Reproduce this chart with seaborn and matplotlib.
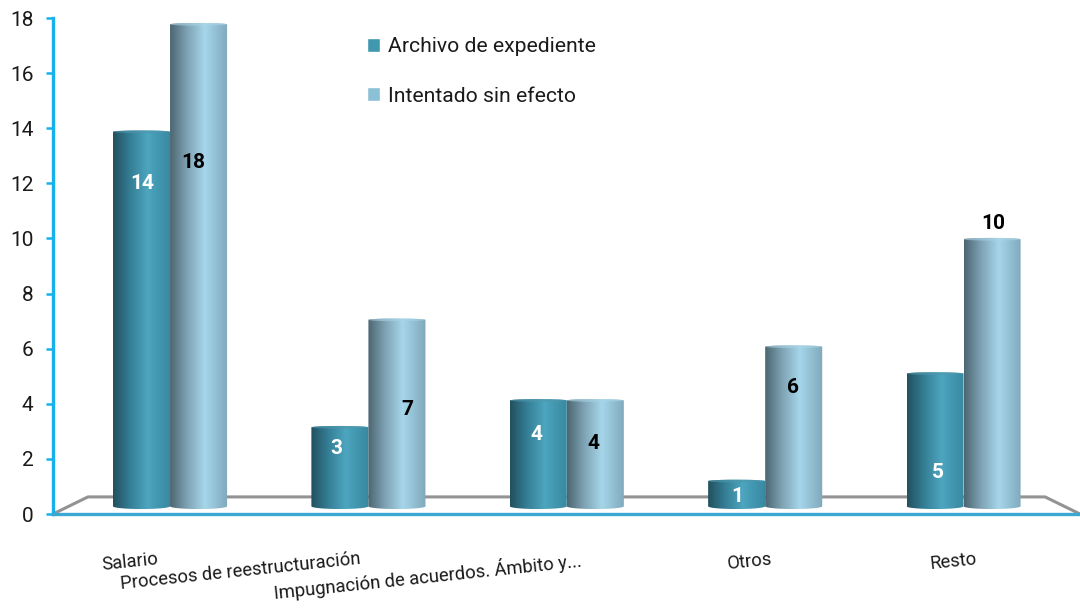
import numpy as np
import pandas as pd
import seaborn as sns
import matplotlib.pyplot as plt
from matplotlib.colors import LinearSegmentedColormap
from matplotlib.patches import Ellipse, PathPatch, Rectangle
from matplotlib.path import Path
from matplotlib.transforms import ScaledTranslation, blended_transform_factory

categorias = ['Salario', 'Procesos de reestructuración', 'Impugnación de acuerdos. Ámbito y...', 'Otros', 'Resto']
archivo = [14, 3, 4, 1, 5]
intentado = [18, 7, 4, 6, 10]
series = ['Archivo de expediente', 'Intentado sin efecto']
yticks = list(range(0, 19, 2))

# the fake 3d floor: bars start a little above 0 and are slightly squashed
BASE = 0.28
OFFSET = 0.22
SQUASH = 0.975

# where the value labels sit (data y, x shift in px)
label_y_archivo = [12.0, 2.38, 2.88, 0.65, 1.5]
label_y_intentado = [12.77, 3.78, 2.55, 4.6, 10.56]
label_dx_archivo = [1, -4, -2, 1, 3]
label_dx_intentado = [-5, 10, -2, -1, 1]

# x shift in px of the right end of each category label
tick_dx = [-13, -9, 14, 6, 12]

dark_cmap = LinearSegmentedColormap.from_list('dark', [(0, '#22505f'), (0.3, '#357f96'), (0.6, '#4da5bf'), (1, '#37879f')])
light_cmap = LinearSegmentedColormap.from_list('light', [(0, '#4c6671'), (0.3, '#7fa3b5'), (0.6, '#a6d6ea'), (1, '#7fa8ba')])

df = pd.DataFrame({
    'categoria': categorias * 2,
    'serie': [series[0]] * 5 + [series[1]] * 5,
    'valor': archivo + intentado,
})
df['alto'] = OFFSET + df['valor'] * SQUASH

sns.set_style('white')
plt.rcParams['font.family'] = ['Roboto', 'DejaVu Sans']

fig = plt.figure(figsize=(10.8, 6.08), dpi=100)
ax = fig.add_axes([53 / 1080, (608 - 514) / 608, 1027 / 1080, 496 / 608])

sns.barplot(data=df, x='categoria', y='alto', hue='serie', palette=['#3f98ae', '#8cc0d6'],
            width=0.575, gap=0, dodge=True, errorbar=None, ax=ax, zorder=2)

ax.set_xlabel('')
ax.set_ylabel('')

# floor outline behind the bars
floor_trans = blended_transform_factory(ax.transAxes, ax.transData)
ax.plot([0, 0.034, 0.966, 1], [0, 0.62, 0.62, 0], color='#939393', lw=2.2, transform=floor_trans, zorder=1, clip_on=False)

grad = np.linspace(0, 1, 256).reshape(1, -1)
bars = [p for c in ax.containers for p in c]
for i, bar in enumerate(bars):
    x0, w, top = bar.get_x(), bar.get_width(), bar.get_height()
    bar.set_visible(False)
    cap = 0.1
    xc = x0 + w / 2
    zo = 3 + i
    # cylinder outline: flat sides, round bottom and a slight round top
    k = np.linspace(0, np.pi, 40)
    bottom_edge = list(zip(xc - w / 2 * np.cos(k), BASE - cap * np.sin(k)))
    top_edge = list(zip(xc + w / 2 * np.cos(k), top + cap * np.sin(k) * 0.5))
    verts = bottom_edge + top_edge + [bottom_edge[0]]
    codes = [Path.MOVETO] + [Path.LINETO] * (len(verts) - 2) + [Path.CLOSEPOLY]
    clip = PathPatch(Path(verts, codes), transform=ax.transData, fc='none', ec='none')
    ax.add_patch(clip)
    cmap = dark_cmap if i < 5 else light_cmap
    im = ax.imshow(grad, cmap=cmap, extent=[x0, x0 + w, BASE - cap, top + cap], aspect='auto', zorder=zo, interpolation='bilinear')
    im.set_clip_path(clip)
    ax.add_patch(Ellipse((xc, top), w, cap, fc='#4f97ad' if i < 5 else '#a9d3e4', ec='none', zorder=zo + 0.1, alpha=0.6))

ax.set_xlim(-0.59, 4.587)
ax.set_ylim(0, 18)

# value labels
for i in range(5):
    bar = bars[i]
    ax.annotate(str(archivo[i]), (bar.get_x() + bar.get_width() / 2, label_y_archivo[i]),
                xytext=(label_dx_archivo[i] * 0.72, 0), textcoords='offset points',
                ha='center', va='center', color='white', fontsize=15, fontweight='bold', zorder=30)
    bar = bars[i + 5]
    ax.annotate(str(intentado[i]), (bar.get_x() + bar.get_width() / 2, label_y_intentado[i]),
                xytext=(label_dx_intentado[i] * 0.72, 0), textcoords='offset points',
                ha='center', va='center', color='black', fontsize=15, fontweight='bold', zorder=30)

sns.despine(ax=ax)
ax.spines['left'].set_color('#16b1ea')
ax.spines['left'].set_linewidth(2.4)
ax.spines['bottom'].set_color('#3aa8d0')
ax.spines['bottom'].set_linewidth(2.4)

ax.set_yticks(yticks)
ax.tick_params(axis='y', length=5, width=1.8, color='#16b1ea', labelsize=15, labelcolor='#1a1a1a', pad=9, left=True)
ax.tick_params(axis='x', length=0, pad=26)
ax.set_xticks(range(5))
ax.set_xticklabels(categorias, rotation=6, ha='right', rotation_mode='anchor', fontsize=13.2, color='#1a1a1a')
for lab, dx in zip(ax.get_xticklabels(), tick_dx):
    lab.set_transform(lab.get_transform() + ScaledTranslation(dx / 100, 0, fig.dpi_scale_trans))

handles = [Rectangle((0, 0), 1, 1, fc='#3f98ae'), Rectangle((0, 0), 1, 1, fc='#8cc0d6')]
ax.legend(handles, series, loc='upper left', bbox_to_anchor=(0.295, 0.982), frameon=False, fontsize=15.2,
          handlelength=0.66, handleheight=0.66, handletextpad=0.36, labelspacing=1.43, borderpad=0, labelcolor='#1a1a1a')

fig.savefig('out.png', dpi=100)
